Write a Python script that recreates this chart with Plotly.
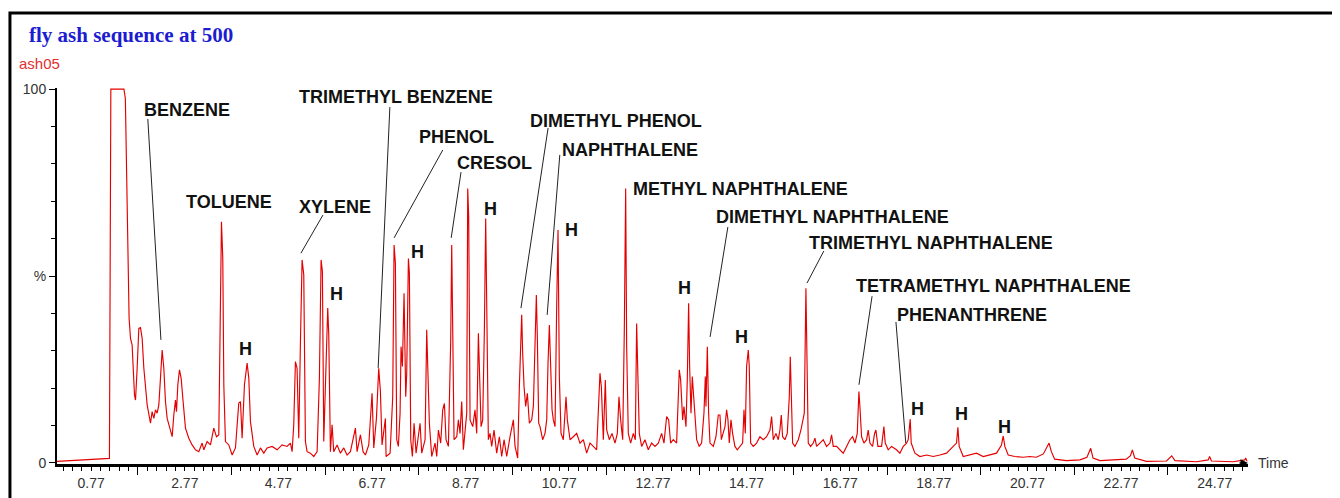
import plotly.graph_objects as go

# ---------------- data (retention time in min, relative abundance in %) ----------------
rt_a = [0.04, 1.15, 1.16, 1.19, 1.47, 1.50, 1.52, 1.54, 1.56, 1.58,
        1.61, 1.645, 1.695, 1.717, 1.752, 1.788, 1.823, 1.859, 1.895, 1.930,
        1.966, 2.037, 2.072, 2.108, 2.144, 2.179, 2.215, 2.250, 2.286, 2.322,
        2.357, 2.393, 2.464, 2.500, 2.535, 2.571, 2.592, 2.621, 2.656, 2.692,
        2.734, 2.784, 2.855, 2.926, 2.998, 3.069, 3.140, 3.176, 3.247, 3.318,
        3.389, 3.446, 3.496, 3.532, 3.553, 3.581, 3.603, 3.638, 3.710, 3.781,
        3.852, 3.923, 3.959, 3.994, 4.044, 4.101, 4.137, 4.172, 4.243, 4.315,
        4.386, 4.457, 4.528, 4.635, 4.741, 4.848, 4.955, 5.026, 5.062, 5.097,
        5.133, 5.168, 5.204, 5.240, 5.275, 5.311, 5.346, 5.382, 5.453, 5.524,
        5.596, 5.645, 5.681, 5.709, 5.738, 5.795, 5.823, 5.845, 5.880, 5.916,
        5.951, 6.023, 6.094, 6.165, 6.236, 6.307, 6.414, 6.450, 6.521, 6.578,
        6.628, 6.699, 6.770, 6.806, 6.863, 6.912, 6.948, 6.983, 7.055]
pct_a = [0.4, 1.1, 1.2, 100, 100, 97.5, 83.2, 63.6, 47.6, 38.7,
         33.3, 31.5, 18.2, 16.8, 25.3, 36.0, 36.2, 33.3, 25.3, 19.1,
         15.5, 10.6, 13.7, 11.9, 14.2, 13.3, 15.5, 22.6, 30.2, 25.3,
         16.4, 11.9, 8.4, 7.0, 12.8, 16.8, 13.7, 20.9, 24.9, 22.6,
         16.4, 9.3, 6.6, 4.8, 3.5, 3.0, 5.3, 3.5, 5.7, 4.8,
         9.3, 7.0, 7.5, 47.6, 64.5, 54.7, 20.9, 5.7, 4.8, 2.1,
         4.0, 16.0, 16.4, 6.6, 20.9, 26.7, 22.6, 11.1, 4.4, 2.1,
         4.0, 2.6, 4.0, 4.4, 3.5, 4.8, 4.4, 5.3, 3.0, 10.2,
         27.1, 25.3, 6.6, 32.4, 54.3, 50.3, 5.7, 3.0, 2.6, 1.7,
         3.0, 22.6, 54.3, 51.2, 5.7, 29.8, 41.4, 34.2, 3.0, 10.2,
         3.0, 4.8, 2.6, 4.0, 2.1, 3.0, 9.3, 3.0, 7.5, 3.0,
         2.1, 4.8, 18.6, 4.0, 11.9, 25.3, 19.1, 4.8, 11.9]

rt_b = [7.069, 7.155, 7.211, 7.240, 7.268, 7.297, 7.332, 7.368, 7.389, 7.418,
        7.453, 7.489, 7.510, 7.546, 7.567, 7.596, 7.631, 7.667, 7.710, 7.759,
        7.795, 7.831, 7.902, 7.937, 7.959, 7.994, 8.044, 8.115, 8.151, 8.187,
        8.236, 8.279, 8.315, 8.350, 8.400, 8.450, 8.471, 8.493, 8.521, 8.578,
        8.614, 8.649, 8.685, 8.720, 8.756, 8.792, 8.813, 8.834, 8.863, 8.920,
        8.969, 9.005, 9.041, 9.062, 9.098, 9.133, 9.169, 9.197, 9.219, 9.254,
        9.290, 9.325, 9.375, 9.432, 9.489, 9.539, 9.589, 9.646, 9.717, 9.788,
        9.824, 9.880, 9.916, 9.945, 9.966, 9.987, 10.016, 10.051, 10.087, 10.130,
        10.180, 10.215, 10.251, 10.279, 10.300, 10.329, 10.357, 10.414, 10.464, 10.500,
        10.528, 10.557, 10.585, 10.614, 10.642, 10.678, 10.713, 10.742, 10.770, 10.806,
        10.855, 10.913, 10.941, 10.998, 11.069, 11.140, 11.211, 11.283, 11.354, 11.425,
        11.496, 11.567, 11.638, 11.667, 11.710, 11.752, 11.781, 11.838, 11.895, 11.959,
        12.009, 12.044, 12.080, 12.123, 12.158, 12.187, 12.208, 12.243, 12.293, 12.350,
        12.393, 12.421, 12.450, 12.478, 12.528, 12.599, 12.670, 12.742, 12.813, 12.884,
        12.955, 13.005, 13.062, 13.105, 13.147, 13.204, 13.275, 13.332, 13.361, 13.404,
        13.432, 13.475, 13.503, 13.532, 13.553, 13.582, 13.610, 13.631, 13.667, 13.703,
        13.759, 13.809, 13.859, 13.888]
pct_b = [1.7, 2.6, 17.7, 58.3, 53.4, 6.2, 4.4, 13.3, 31.1, 25.8,
         45.4, 17.7, 24.0, 54.7, 50.7, 6.2, 1.7, 10.6, 2.6, 7.9,
         10.6, 2.6, 6.2, 35.6, 23.1, 10.6, 1.7, 5.3, 1.7, 8.8,
         5.3, 14.2, 15.9, 6.2, 4.4, 32.9, 58.3, 39.2, 6.2, 7.0,
         11.5, 7.9, 16.4, 3.5, 7.9, 13.3, 73.4, 65.9, 11.5, 9.7,
         14.2, 7.9, 34.7, 27.5, 9.7, 11.5, 35.6, 65.4, 35.6, 6.2,
         7.9, 4.4, 8.8, 2.6, 7.0, 1.7, 6.2, 1.7, 7.0, 11.5,
         4.4, 1.3, 20.4, 33.8, 39.6, 29.3, 20.4, 15.1, 18.6, 10.6,
         11.5, 15.1, 31.1, 44.9, 33.8, 10.6, 9.7, 6.2, 7.9, 11.5,
         26.6, 36.9, 25.8, 14.2, 11.5, 9.7, 41.8, 62.3, 23.1, 7.9,
         6.2, 17.7, 11.5, 6.2, 7.0, 7.9, 5.3, 6.2, 2.6, 5.3,
         4.4, 3.5, 24.0, 20.4, 6.2, 22.2, 8.8, 6.2, 7.9, 5.3,
         7.9, 17.7, 11.5, 6.2, 35.6, 73.4, 31.1, 7.9, 5.3, 7.9,
         6.2, 37.3, 22.2, 7.9, 4.4, 6.2, 3.5, 5.3, 4.4, 5.3,
         7.9, 5.3, 12.4, 11.5, 5.3, 6.2, 5.3, 24.9, 22.2, 11.5,
         15.1, 9.7, 22.2, 42.7, 25.8, 13.3, 23.1, 18.6, 10.6, 6.2,
         4.4, 5.3, 13.3, 23.1]

rt_c = [13.902, 13.931, 13.959, 13.988, 14.059, 14.116, 14.165, 14.201, 14.230, 14.272,
        14.308, 14.343, 14.372, 14.400, 14.436, 14.471, 14.521, 14.571, 14.628, 14.685,
        14.714, 14.742, 14.770, 14.806, 14.827, 14.856, 14.913, 14.984, 15.055, 15.126,
        15.197, 15.233, 15.269, 15.304, 15.340, 15.397, 15.447, 15.482, 15.511, 15.539,
        15.589, 15.639, 15.682, 15.703, 15.724, 15.753, 15.802, 15.874, 15.931, 15.966,
        16.002, 16.037, 16.059, 16.087, 16.137, 16.194, 16.230, 16.265, 16.336, 16.407,
        16.479, 16.550, 16.585, 16.621, 16.692, 16.763, 16.834, 16.906, 16.977, 17.034,
        17.084, 17.134, 17.169, 17.190, 17.226, 17.276, 17.333, 17.368, 17.404, 17.461,
        17.504, 17.532, 17.575, 17.653, 17.703, 17.731, 17.795, 17.866, 17.973, 18.044,
        18.116, 18.187, 18.222, 18.265, 18.286, 18.365, 18.472, 18.614, 18.756, 18.899,
        19.041, 19.183, 19.254, 19.283, 19.311, 19.397, 19.539, 19.681, 19.824, 19.966,
        20.108, 20.215, 20.251, 20.286, 20.358, 20.500, 20.678, 20.820]
pct_c = [15.1, 31.1, 13.3, 5.3, 4.4, 7.0, 12.8, 12.8, 6.2, 7.9,
         9.7, 14.2, 11.5, 5.3, 11.5, 7.9, 4.4, 3.5, 4.4, 5.3,
         14.2, 7.9, 25.8, 30.2, 25.8, 5.3, 4.4, 5.3, 7.0, 6.2,
         7.0, 7.9, 8.8, 12.4, 6.2, 7.9, 6.2, 8.8, 12.8, 7.0,
         6.2, 7.9, 17.7, 28.4, 15.1, 5.3, 4.4, 6.2, 8.8, 11.5,
         13.3, 46.7, 31.1, 5.3, 4.4, 5.3, 6.6, 4.4, 5.3, 6.2,
         4.4, 5.3, 7.5, 4.4, 4.4, 3.5, 2.6, 4.4, 6.2, 7.0,
         5.3, 7.9, 19.1, 15.1, 7.0, 5.3, 6.2, 8.8, 5.3, 4.4,
         7.9, 8.8, 4.4, 4.4, 9.7, 5.3, 3.5, 4.4, 3.5, 2.6,
         4.4, 5.3, 6.2, 11.7, 5.3, 2.6, 1.7, 2.1, 1.7, 2.1,
         2.6, 4.4, 5.3, 9.5, 4.4, 1.7, 2.1, 2.6, 1.7, 2.1,
         2.6, 4.8, 7.2, 4.4, 2.1, 1.7, 1.5, 1.7]

rt_d = [20.96, 21.11, 21.18, 21.23, 21.28, 21.35, 21.60, 21.89, 22.04, 22.12,
        22.17, 22.32, 22.60, 22.88, 22.97, 23.01, 23.06, 23.31, 23.74, 23.85,
        23.92, 24.38, 24.63, 24.66, 24.70, 25.16, 25.41, 25.43, 25.46]
pct_d = [1.5, 2.4, 3.9, 5.3, 3.0, 1.0, 0.6, 0.8, 1.5, 3.9,
         1.3, 0.6, 0.8, 1.0, 1.9, 3.5, 1.3, 0.4, 0.5, 1.9,
         0.6, 0.3, 0.8, 1.7, 0.5, 0.3, 0.8, 1.3, 0.4]

for a, b in [(rt_a, pct_a), (rt_b, pct_b), (rt_c, pct_c), (rt_d, pct_d)]:
    assert len(a) == len(b), (len(a), len(b))

retention_time = rt_a + rt_b + rt_c + rt_d
abundance = pct_a + pct_b + pct_c + pct_d

# identified compounds
compounds = ["BENZENE", "TOLUENE", "XYLENE", "TRIMETHYL BENZENE", "PHENOL", "CRESOL",
             "DIMETHYL PHENOL", "NAPHTHALENE", "METHYL NAPHTHALENE", "DIMETHYL NAPHTHALENE",
             "TRIMETHYL NAPHTHALENE", "TETRAMETHYL NAPHTHALENE", "PHENANTHRENE"]
x_tick_labels = ["0.77", "2.77", "4.77", "6.77", "8.77", "10.77", "12.77",
                 "14.77", "16.77", "18.77", "20.77", "22.77", "24.77"]
y_tick_labels = ["0", "%", "100"]

# ---------------- layout positions (label placement, not data) ----------------
label_x = [2.82, 3.71, 5.97, 7.28, 8.58, 9.39, 11.98, 12.28, 14.65, 16.61, 18.71, 20.05, 19.58]
label_y = [94.9, 70.3, 69.0, 98.3, 87.7, 80.7, 92.0, 84.2, 73.8, 66.3, 59.4, 47.9, 40.1]
# leader lines: start (near label) -> end (above peak); None = no leader
lead_x0 = [1.98, None, 5.72, 7.15, 8.28, 8.67, 10.53, 10.78, None, 14.37, 16.42, 17.45, 17.96]
lead_y0 = [92.0, None, 66.3, 95.2, 83.7, 77.8, 89.6, 82.4, None, 63.1, 56.7, 44.6, 37.7]
lead_x1 = [2.26, None, 5.25, 6.90, 7.24, 8.46, 9.95, 10.51, None, 13.99, 16.06, 17.17, 18.17]
lead_y1 = [32.9, None, 56.1, 25.4, 60.2, 60.2, 41.4, 39.6, None, 33.7, 48.1, 20.9, 5.3]
h_x = [4.06, 6.02, 7.73, 9.29, 11.02, 13.45, 14.67, 18.41, 19.35, 20.27]
h_y = [31.0, 45.7, 57.0, 68.5, 62.8, 47.3, 34.2, 15.0, 13.6, 10.2]

X_MIN, X_MAX = 0.04, 25.48
ARIAL = "Arial, Liberation Sans, sans-serif"

fig = go.Figure()
fig.add_trace(go.Scatter(
    x=retention_time, y=abundance, mode="lines",
    line=dict(color="rgb(228,0,0)", width=1.15),
    hoverinfo="skip", showlegend=False,
))

# x ticks: labelled every 2 min, small every 0.2, tall between labels
label_vals = [float(s) for s in x_tick_labels]
tall_vals = [round(v + 1.0, 2) for v in label_vals if v + 1.0 < X_MAX]
small_vals = []
k = 0
while True:
    v = round(0.17 + 0.2 * k, 2)
    if v > X_MAX:
        break
    if all(abs(v - t) > 1e-6 for t in tall_vals):
        small_vals.append(v)
    k += 1
tickvals = small_vals
ticktext = []
for v in small_vals:
    match = [s for s in x_tick_labels if abs(float(s) - v) < 1e-6]
    ticktext.append(match[0] if match else "")

fig.update_layout(
    width=1340, height=498,
    margin=dict(l=49, r=100, t=80, b=42),
    paper_bgcolor="white", plot_bgcolor="white",
    showlegend=False,
    xaxis=dict(
        range=[X_MIN, X_MAX], showgrid=False, zeroline=False, automargin=False,
        showline=True, linecolor="black", linewidth=2.5,
        tickmode="array", tickvals=tickvals, ticktext=ticktext,
        ticks="outside", ticklen=4, tickwidth=1, tickcolor="black",
        tickfont=dict(family=ARIAL, size=14, color="#333"),
        minor=dict(tickmode="array", tickvals=tall_vals, ticks="outside",
                   ticklen=8, tickwidth=1, tickcolor="black", showgrid=False),
    ),
    yaxis=dict(
        range=[-0.3, 100.3], showgrid=False, zeroline=False, automargin=False,
        showline=True, linecolor="black", linewidth=2,
        tickmode="array", tickvals=[0, 50, 100], ticktext=y_tick_labels,
        ticks="outside", ticklen=6, tickwidth=1, tickcolor="black",
        tickfont=dict(family=ARIAL, size=14, color="#333"),
        minor=dict(tickmode="array", tickvals=[10, 20, 30, 40, 60, 70, 80, 90],
                   ticks="outside", ticklen=4, tickwidth=1, tickcolor="black",
                   showgrid=False),
    ),
)

# compound labels and leader lines
for i, name in enumerate(compounds):
    fig.add_annotation(x=label_x[i], y=label_y[i], xref="x", yref="y",
                       text="<b>" + name + "</b>", showarrow=False,
                       xanchor="center", yanchor="middle", yshift=-2,
                       font=dict(family=ARIAL, size=18, color="#111"))
    if lead_x0[i] is not None:
        fig.add_shape(type="line", xref="x", yref="y",
                      x0=lead_x0[i], y0=lead_y0[i], x1=lead_x1[i], y1=lead_y1[i],
                      line=dict(color="#222", width=1))

for hx, hy in zip(h_x, h_y):
    fig.add_annotation(x=hx, y=hy, xref="x", yref="y", text="<b>H</b>",
                       showarrow=False, xanchor="center", yanchor="middle", yshift=-2,
                       font=dict(family=ARIAL, size=18, color="#111"))

# axis arrow and "Time"
fig.add_annotation(x=X_MAX, y=0, xref="x", yref="y", text="", showarrow=True,
                   ax=-10, ay=0, arrowhead=2, arrowsize=1, arrowwidth=1.5,
                   arrowcolor="black")
fig.add_annotation(x=1.0065, y=0, xref="paper", yref="y", text="Time",
                   showarrow=False, xanchor="left", yanchor="middle",
                   font=dict(family=ARIAL, size=14, color="#333"))

# header texts
fig.add_annotation(x=-0.0252, y=1.14, xref="paper", yref="paper",
                   text="<b>fly ash sequence at 500</b>", showarrow=False,
                   xanchor="left", yanchor="middle",
                   font=dict(family="Liberation Serif, Times New Roman, serif", size=21,
                             color="#1c1cd0"))
fig.add_annotation(x=-0.0336, y=1.064, xref="paper", yref="paper",
                   text="ash05", showarrow=False, xanchor="left", yanchor="middle",
                   font=dict(family=ARIAL, size=15, color="#e03030"))

# outer frame
fig.add_shape(type="rect", xref="paper", yref="paper",
              x0=-0.0395, x1=1.0756, y0=-0.12, y1=1.1995,
              line=dict(color="black", width=3), fillcolor="rgba(0,0,0,0)")

fig.write_html("out.html")
